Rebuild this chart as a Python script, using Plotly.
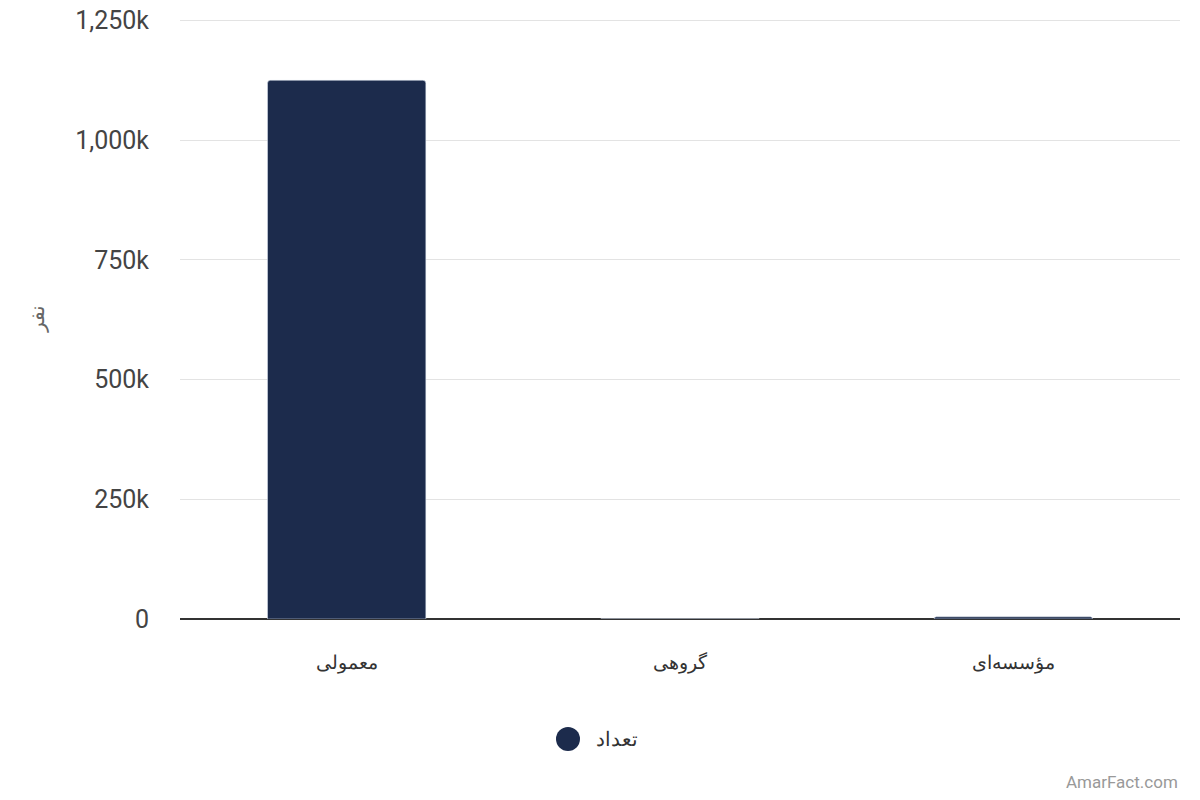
import plotly.graph_objects as go

categories = ["معمولی", "گروهی", "مؤسسه‌ای"]
values = [1125000, 500, 4500]
series_name = "تعداد"
tick_vals = [0, 250000, 500000, 750000, 1000000, 1250000]
tick_text = ["0", "250k", "500k", "750k", "1,000k", "1,250k"]
y_title = "نفر"
bar_color = "#1c2b4c"

fig = go.Figure()
fig.add_trace(go.Bar(x=categories, y=values, name=series_name, marker_color=bar_color,
                     showlegend=False))

# legend drawn manually (circle + label)
lx, ly = 0.388, -0.2
fig.add_shape(type="circle", xref="paper", yref="paper",
              x0=lx - 0.012, x1=lx + 0.012, y0=ly - 0.02, y1=ly + 0.02,
              fillcolor=bar_color, line=dict(width=0))

fig.update_layout(
    width=1200, height=800,
    paper_bgcolor="white", plot_bgcolor="white",
    margin=dict(l=172, r=28, t=11, b=189, autoexpand=False),
    font=dict(family="Roboto, Noto Sans, sans-serif", color="#333333"),
    bargap=0.525,
    barcornerradius=3,
    showlegend=False,
    xaxis=dict(tickfont=dict(size=19, color="#333333"), showgrid=False,
               showline=False, ticks="", ticklabelstandoff=30, automargin=False),
    yaxis=dict(range=[0, 1253000], tickvals=tick_vals, ticktext=tick_text,
               tickfont=dict(size=25, color="#444444"), gridcolor="#e3e3e3",
               zeroline=True, zerolinecolor="#333333", zerolinewidth=2,
               ticklabelstandoff=30, automargin=False, ticklabeloverflow="allow"),
    annotations=[
        dict(text=series_name, xref="paper", yref="paper", x=lx + 0.026, y=ly,
             xanchor="left", yanchor="middle", showarrow=False,
             font=dict(size=20, color="#333333")),
        dict(text="AmarFact.com", xref="paper", yref="paper", x=1.0, y=-0.272,
             xanchor="right", yanchor="middle", showarrow=False,
             font=dict(size=17, color="#999999")),
        dict(text=y_title, xref="paper", yref="paper", x=-0.143, y=0.5,
             xanchor="center", yanchor="middle", showarrow=False, textangle=-90,
             font=dict(size=20, color="#666666")),
    ],
)

fig.write_html("out.html")
